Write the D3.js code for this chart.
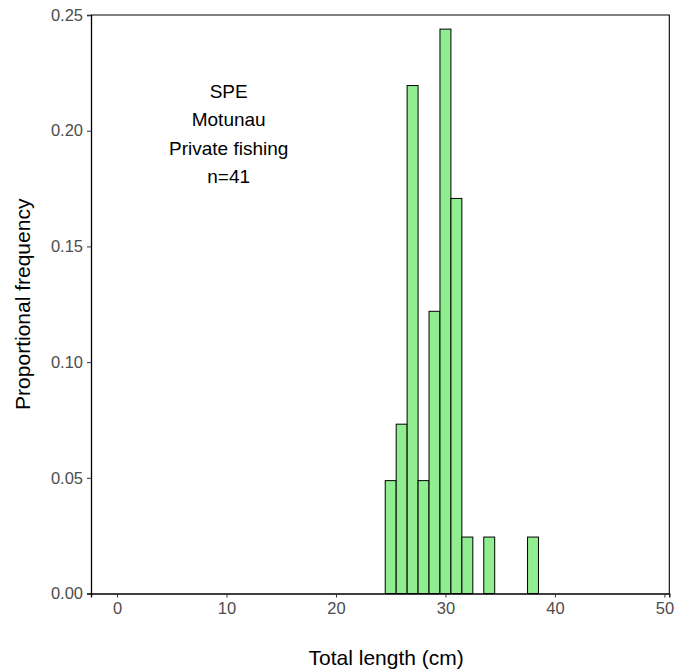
<!DOCTYPE html>
<html>
<head>
  <title>SPE length frequency</title>
  <style>
body { margin: 0px; background: #fff; }
text { font-family: "Liberation Sans", Arial, sans-serif; }
  </style>
  <script src="https://cdnjs.cloudflare.com/ajax/libs/d3/7.8.5/d3.min.js"></script>
</head>
<body>
</body>
<script>
// length bins (cm) and their proportional frequency, n = 41
var lengths = [25, 26, 27, 28, 29, 30, 31, 32, 34, 38];
var counts  = [2, 3, 9, 2, 5, 10, 7, 1, 1, 1];
var nFish = 41;
var freqs = counts.map(function(c){ return c / nFish; });

var xTicks = [0, 10, 20, 30, 40, 50];
var yTicks = [0, 0.05, 0.10, 0.15, 0.20, 0.25];
var labelLines = ["SPE", "Motunau", "Private fishing", "n=41"];

var w = 675, h = 671;
var pLeft = 91, pRight = 669.3, pTop = 15, pBottom = 593.5;

var x = d3.scaleLinear().domain([-2.38, 50.45]).range([pLeft, pRight]);
var y = d3.scaleLinear().domain([0, 0.25]).range([pBottom, pTop]);

var svg = d3.select('body').append('svg')
    .attr('width', w)
    .attr('height', h);

// bars
svg.selectAll('rect.bar')
    .data(lengths)
    .enter()
    .append('rect')
    .attr('class', 'bar')
    .attr('x', function(d){ return x(d - 0.5); })
    .attr('width', function(d){ return x(d + 0.5) - x(d - 0.5); })
    .attr('y', function(d, i){ return y(freqs[i]); })
    .attr('height', function(d, i){ return y(0) - y(freqs[i]); })
    .attr('fill', '#90EE90')
    .attr('stroke', '#000')
    .attr('stroke-width', 1);

// panel border (top + right)
svg.append('path')
    .attr('d', 'M' + pLeft + ',' + pTop + 'H' + pRight + 'V' + pBottom)
    .attr('fill', 'none')
    .attr('stroke', '#000')
    .attr('stroke-width', 1.1);

var xAxis = svg.append('g')
    .attr('transform', 'translate(0,' + pBottom + ')')
    .call(d3.axisBottom(x).tickValues(xTicks).tickSize(4).tickPadding(5).tickFormat(d3.format('d')));
var yAxis = svg.append('g')
    .attr('transform', 'translate(' + pLeft + ',0)')
    .call(d3.axisLeft(y).tickValues(yTicks).tickSize(4).tickPadding(4).tickFormat(d3.format('.2f')));

[xAxis, yAxis].forEach(function(g){
  g.select('.domain').attr('stroke', '#000').attr('stroke-width', 1.3);
  g.selectAll('.tick line').attr('stroke', '#333').attr('stroke-width', 1);
  g.selectAll('.tick text')
    .attr('fill', '#4d4d4d')
    .style('font-size', '16.5px')
    .style('font-family', '"Liberation Sans", Arial, sans-serif');
});

// axis titles
svg.append('text')
    .attr('x', (pLeft + pRight) / 2 + 6)
    .attr('y', 665)
    .attr('text-anchor', 'middle')
    .style('font-size', '21px')
    .text('Total length (cm)');

svg.append('text')
    .attr('transform', 'translate(30,' + ((pTop + pBottom) / 2) + ') rotate(-90)')
    .attr('text-anchor', 'middle')
    .style('font-size', '21px')
    .text('Proportional frequency');

// annotation
svg.selectAll('text.lab')
    .data(labelLines)
    .enter()
    .append('text')
    .attr('class', 'lab')
    .attr('x', x(10.2))
    .attr('y', function(d, i){ return y(0.198) + (i - 1.5) * 28.5 + 5; })
    .attr('text-anchor', 'middle')
    .style('font-size', '19px')
    .attr('fill', '#000')
    .text(function(d){ return d; });
</script>
</html>
